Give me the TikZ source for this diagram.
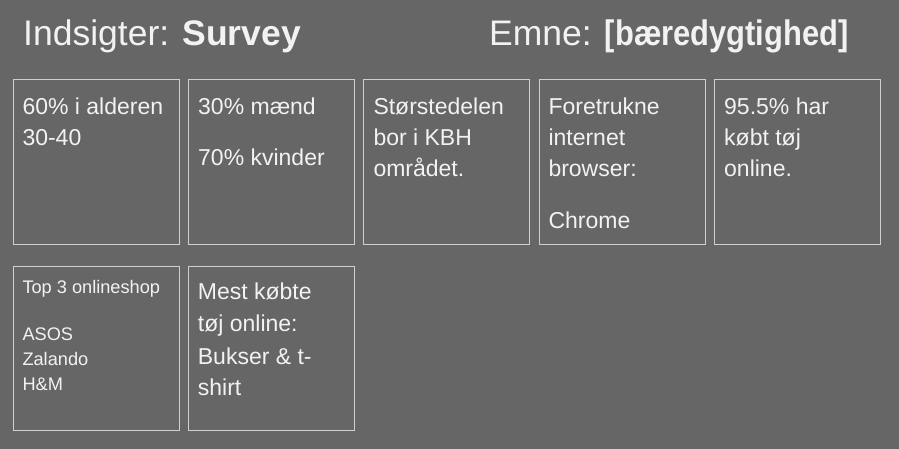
\documentclass[tikz,border=0pt]{standalone}
\usepackage{fontspec}
\usepackage{graphicx}
\setmainfont{Liberation Sans}
\definecolor{bg}{HTML}{666666}
\definecolor{edge}{HTML}{CFCFCF}
\definecolor{ink}{HTML}{F2F2F2}
\begin{document}
\begin{tikzpicture}[x=1pt,y=-1pt,
  box/.style={draw=edge,line width=1pt,minimum width=166pt,minimum height=164.5pt,inner sep=0pt,anchor=north west},
  ttl/.style={text=ink,inner sep=0pt,anchor=base west,font=\fontsize{35.5}{40}\selectfont},
  txt/.style={text=ink,inner sep=0pt,anchor=base west,font=\fontsize{23}{27}\selectfont},
  sml/.style={text=ink,inner sep=0pt,anchor=base west,font=\fontsize{18.2}{22}\selectfont}]
\fill[bg] (0,0) rectangle (899,449);
\useasboundingbox (0,0) rectangle (899,449);
\node[ttl] (title1) at (23,46) {Indsigter: \textbf{Survey}};
\node[ttl] (title2) at (489,46) {Emne: \scalebox{0.87}[1]{\textbf{[bæredygtighed]}}};
% row 1
\node[box] (b1) at (12.5,79) {};
\node[box] (b2) at (188,79) {};
\node[box] (b3) at (363.3,79) {};
\node[box] (b4) at (538.7,79) {};
\node[box] (b5) at (714.3,79) {};
% row 2
\node[box] (b6) at (12.5,265.5) {};
\node[box] (b7) at (188,265.5) {};
% texts box 1
\node[txt] (t11) at (22.3,114.3) {60\% i alderen};
\node[txt] (t12) at (22.3,145.5) {30-40};
% box 2
\node[txt] (t21) at (198,114.3) {30\% mænd};
\node[txt] (t22) at (198,165.7) {70\% kvinder};
% box 3
\node[txt] (t31) at (373.3,114.3) {Størstedelen};
\node[txt] (t32) at (373.3,145.6) {bor i KBH};
\node[txt] (t33) at (373.3,176.7) {området.};
% box 4
\node[txt] (t41) at (548.3,114.3) {Foretrukne};
\node[txt] (t42) at (548.3,145.6) {internet};
\node[txt] (t43) at (548.3,176.7) {browser:};
\node[txt] (t44) at (548.3,229) {Chrome};
% box 5
\node[txt] (t51) at (724,114.3) {95.5\% har};
\node[txt] (t52) at (724,145.6) {købt tøj};
\node[txt] (t53) at (724,176.7) {online.};
% box 6
\node[sml] (t61) at (22.3,293.7) {Top 3 onlineshop};
\node[sml] (t62) at (22.3,340.7) {ASOS};
\node[sml] (t63) at (22.3,365.2) {Zalando};
\node[sml] (t64) at (22.3,390) {H\&M};
% box 7
\node[txt] (t71) at (197.7,299.6) {Mest købte};
\node[txt] (t72) at (197.7,331.7) {tøj online:};
\node[txt] (t73) at (197.7,364.2) {Bukser \& t-};
\node[txt] (t74) at (197.7,395.7) {shirt};
\end{tikzpicture}
\end{document}
